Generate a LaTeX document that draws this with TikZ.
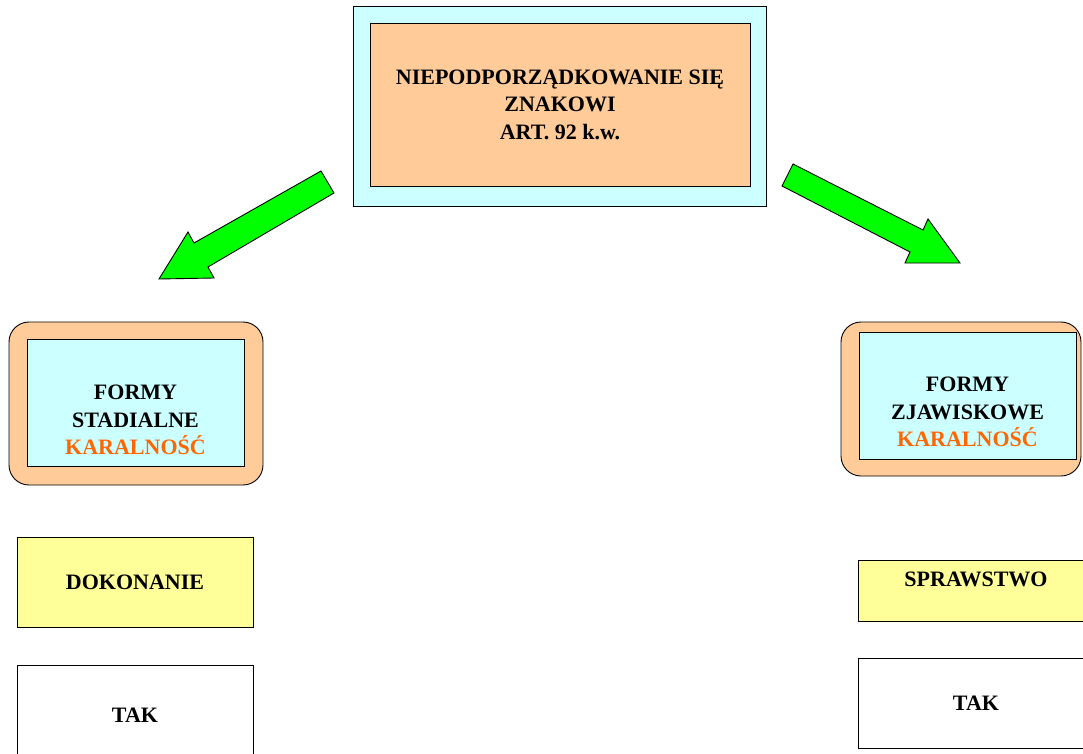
\documentclass[tikz,border=0pt]{standalone}
\usepackage{fontspec}
\setmainfont{Liberation Serif}
\definecolor{peach}{HTML}{FFCC99}
\definecolor{paleblue}{HTML}{CCFFFF}
\definecolor{paleyellow}{HTML}{FFFF99}
\definecolor{karaorange}{HTML}{FF6600}
\definecolor{arrowgreen}{HTML}{00FF00}
\begin{document}
\begin{tikzpicture}[x=1pt,y=-1pt,
	every node/.style={font=\bfseries\fontsize{22}{27.5}\selectfont, align=center, inner sep=0pt},
	box/.style={draw, line width=0.9pt},
	bigarrow/.style={draw, line width=0.9pt, fill=arrowgreen, line join=miter}]
	\clip (0,0) rectangle (1083,754);
	% top: the article
	\node[box, fill=paleblue, minimum width=413, minimum height=200] (artframe) at (559.5,106) {};
	\node[box, fill=peach, minimum width=380, minimum height=163] (art) at (560,104.5) {NIEPODPORZĄDKOWANIE SIĘ\\ ZNAKOWI\\ ART. 92 k.w.};
	% green arrows
	\draw[bigarrow] (321,171) -- (334,193) -- (208,267) -- (214,278) -- (159,279) -- (188,232) -- (194,243) -- cycle;
	\draw[bigarrow] (793,164) -- (923,230) -- (928,219) -- (960,263) -- (905,263) -- (910,252) -- (782,186) -- cycle;
	% left column
	\node[box, rounded corners=20, fill=peach, minimum width=254, minimum height=163] (stadframe) at (136,403.5) {};
	\node[box, fill=paleblue, minimum width=217, minimum height=127] (stad) at (135.5,402.5) {};
	\node (stadtext) at (135.5,420) {FORMY\\ STADIALNE\\ \textcolor{karaorange}{KARALNOŚĆ}};
	\node[box, fill=paleyellow, minimum width=236, minimum height=90] (dok) at (135,582) {DOKONANIE};
	\node[box, fill=white, minimum width=236, minimum height=100] (takleft) at (135,715) {TAK};
	% right column
	\node[box, rounded corners=20, fill=peach, minimum width=240, minimum height=154] (zjawframe) at (961,399) {};
	\node[box, fill=paleblue, minimum width=217, minimum height=127] (zjaw) at (967.5,395.5) {};
	\node (zjawtext) at (967.5,412) {FORMY\\ ZJAWISKOWE\\ \textcolor{karaorange}{KARALNOŚĆ}};
	\node[box, fill=paleyellow, minimum width=236, minimum height=61] (spr) at (976,590.5) {};
	\node (sprtext) at (976,579) {SPRAWSTWO};
	\node[box, fill=white, minimum width=236, minimum height=90] (takright) at (976,703) {TAK};
\end{tikzpicture}
\end{document}
